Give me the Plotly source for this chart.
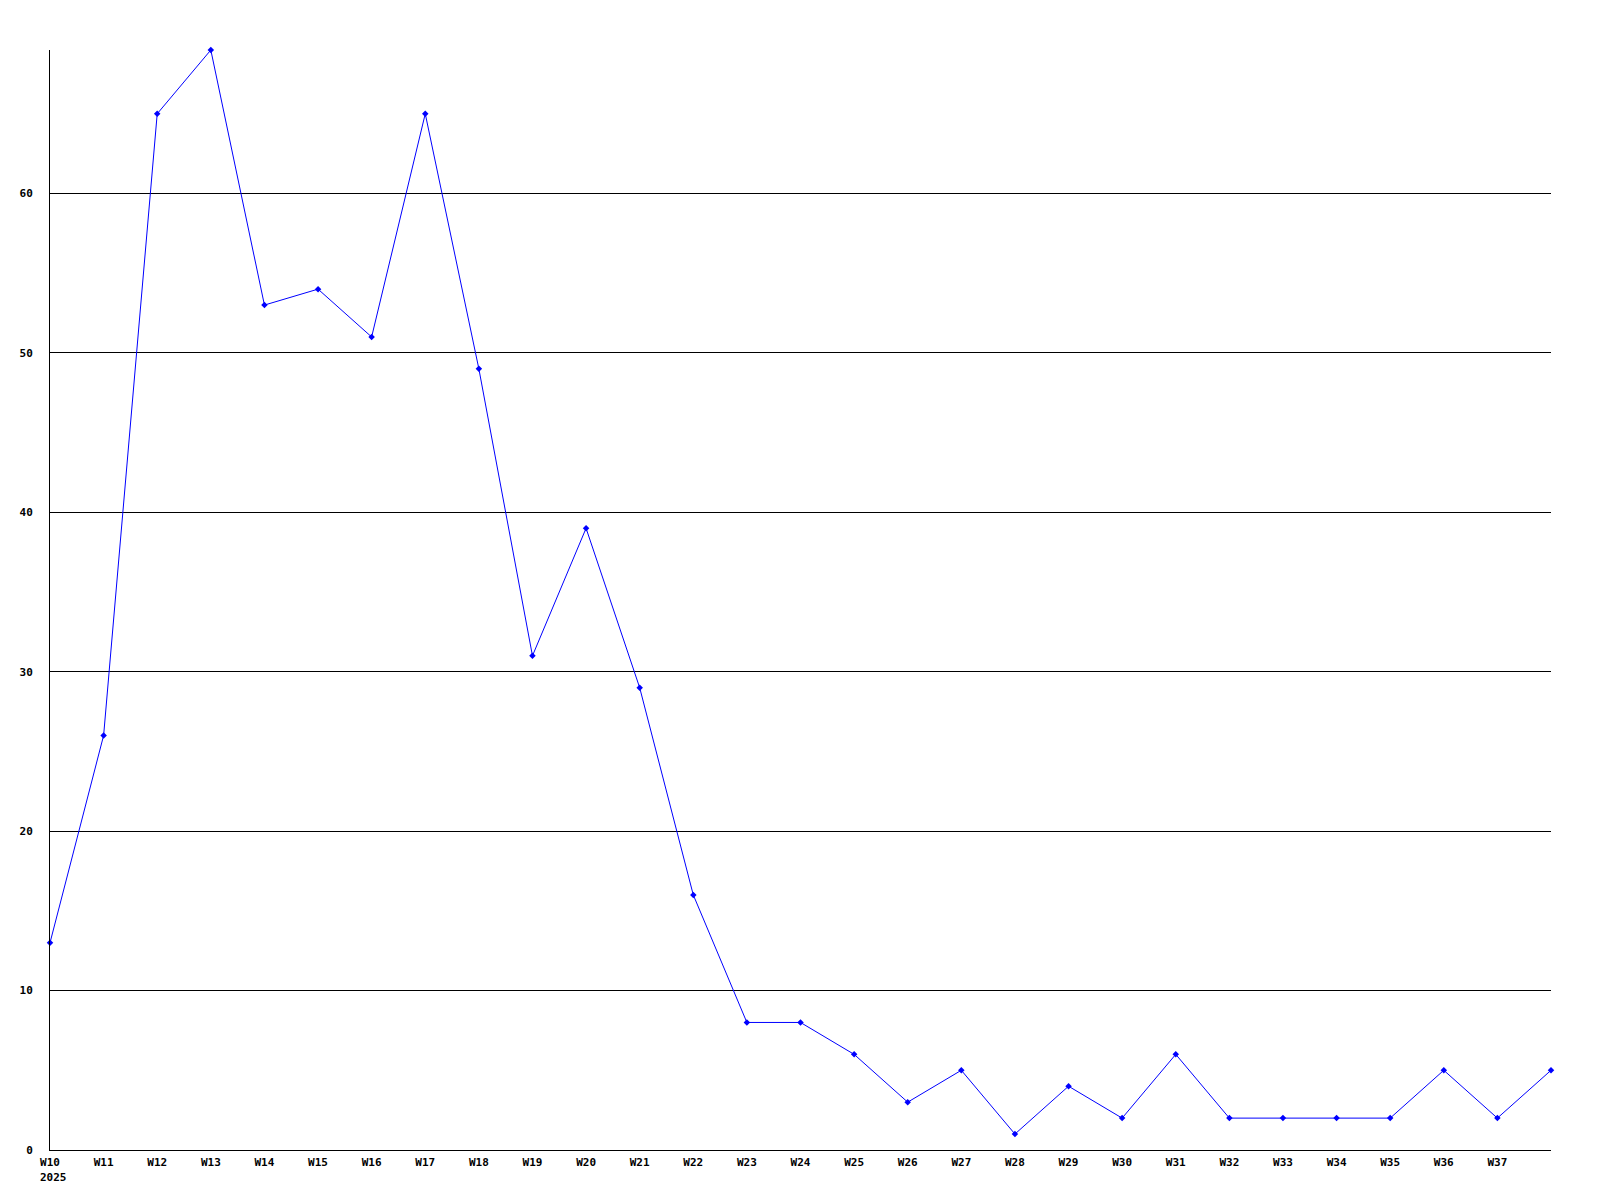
import plotly.graph_objects as go

# Semaines et valeurs
weeks = ["W%d" % n for n in range(10, 39)]
values = [13, 26, 65, 69, 53, 54, 51, 65, 49, 31, 39, 29, 16, 8, 8, 6,
          3, 5, 1, 4, 2, 6, 2, 2, 2, 2, 5, 2, 5]
tick_labels = weeks[:-1] + [""]
year_label = "2025"
y_ticks = [0, 10, 20, 30, 40, 50, 60]

fig = go.Figure()

fig.add_trace(go.Scatter(
    x=weeks,
    y=values,
    mode="lines+markers",
    line=dict(color="#0000ff", width=1),
    marker=dict(symbol="diamond", size=5, color="#0000ff"),
    hoverinfo="x+y",
    cliponaxis=False,
))

font = dict(family="DejaVu Sans Mono", size=11, color="black", weight="bold")

# Année sous la première semaine, alignée à gauche
fig.add_annotation(
    x=weeks[0], y=0,
    xref="x", yref="paper",
    text=year_label,
    showarrow=False,
    xanchor="left", yanchor="top",
    xshift=-12, yshift=-19,
    font=font,
)

# La page ajoute une marge de 8 px autour du graphique
fig.update_layout(
    width=1600,
    height=1200,
    margin=dict(l=42, r=57, t=42, b=58, autoexpand=False),
    plot_bgcolor="white",
    paper_bgcolor="white",
    showlegend=False,
    font=font,
    xaxis=dict(
        type="category",
        range=[0, len(weeks) - 1],
        tickvals=weeks,
        ticktext=tick_labels,
        showgrid=False,
        zeroline=False,
        showline=True,
        linecolor="black",
        linewidth=1,
        ticks="",
        ticklabelstandoff=2,
        tickfont=font,
        automargin=False,
    ),
    yaxis=dict(
        range=[0, 69],
        tickvals=y_ticks,
        showgrid=True,
        gridcolor="black",
        gridwidth=1,
        zeroline=False,
        showline=True,
        linecolor="black",
        linewidth=1,
        ticks="",
        ticklabelstandoff=14,
        tickfont=font,
        automargin=False,
    ),
)

fig.write_html("out.html")
